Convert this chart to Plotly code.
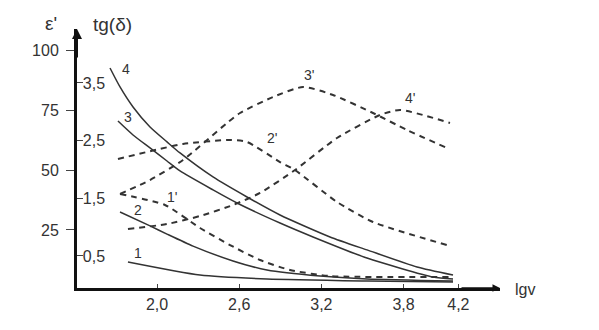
import plotly.graph_objects as go

# ---- data ----
# ε' curves (solid), x = lg ν
eps1_x = [1.788, 2.314, 2.803, 3.533, 4.161]
eps1_y = [11.7, 6.25, 4.6, 3.75, 3.3]
eps2_x = [1.730, 1.949, 2.073, 2.263, 2.555, 2.803, 3.190, 3.533, 4.161]
eps2_y = [32.5, 26.7, 23.3, 18.3, 12.1, 8.3, 5.8, 4.6, 3.75]
eps3_x = [1.715, 1.825, 1.949, 2.073, 2.168, 2.409, 2.584, 2.898, 3.139, 3.533, 4.015, 4.161]
eps3_y = [70.4, 64.6, 59.2, 53.75, 49.6, 41.7, 36.25, 27.9, 22.1, 13.3, 5.4, 4.6]
eps4_x = [1.657, 1.730, 1.825, 1.949, 2.073, 2.168, 2.409, 2.657, 2.898, 3.263, 3.533, 3.898, 4.161]
eps4_y = [92.5, 84.6, 76.25, 67.9, 61.7, 57.1, 47.1, 38.75, 31.25, 22.1, 16.7, 9.6, 6.25]

# tg(δ) curves (dashed)
tg1_x = [1.730, 2.058, 2.314, 2.533, 2.752, 2.971, 3.263, 4.139]
tg1_y = [1.574, 1.384, 0.985, 0.690, 0.430, 0.257, 0.153, 0.135]
tg2_x = [1.715, 2.190, 2.533, 2.657, 2.898, 3.007, 3.314, 3.577, 4.117]
tg2_y = [2.181, 2.441, 2.511, 2.476, 2.129, 1.990, 1.436, 1.089, 0.690]
tg3_x = [1.730, 1.949, 2.190, 2.511, 2.606, 2.847, 3.066, 3.285, 3.577, 3.825, 4.117]
tg3_y = [1.574, 1.817, 2.164, 2.806, 2.979, 3.256, 3.430, 3.291, 2.979, 2.684, 2.372]
tg4_x = [1.788, 2.073, 2.314, 2.555, 2.752, 3.007, 3.314, 3.628, 3.774, 4.139]
tg4_y = [0.968, 1.054, 1.193, 1.384, 1.592, 1.990, 2.545, 2.944, 3.031, 2.806]

x_tick_vals = [2.0, 2.6, 3.2, 3.8, 4.2]
x_tick_text = ["2,0", "2,6", "3,2", "3,8", "4,2"]
eps_tick_vals = [25, 50, 75, 100]
eps_tick_text = ["25", "50", "75", "100"]
tg_tick_vals = [0.5, 1.5, 2.5, 3.5]
tg_tick_text = ["0,5", "1,5", "2,5", "3,5"]

# curve labels: (text, x, ε'-axis value)
curve_labels = ["1", "2", "3", "4", "1'", "2'", "3'", "4'"]
curve_label_x = [1.861, 1.861, 1.788, 1.774, 2.109, 2.839, 3.109, 3.847]
curve_label_y = [15.3, 33.3, 72.1, 92.1, 38.75, 63.3, 89.6, 80.0]

# ---- figure ----
INK = "#333333"
FONT = "Liberation Sans, Arial, sans-serif"
PW, PH = 423, 259  # plot area in px

fig = go.Figure()
for xs, ys in [(eps1_x, eps1_y), (eps2_x, eps2_y), (eps3_x, eps3_y), (eps4_x, eps4_y)]:
    fig.add_trace(go.Scatter(x=xs, y=ys, mode="lines", yaxis="y",
                             line=dict(color=INK, width=1.5, shape="spline", smoothing=0.6),
                             showlegend=False, hoverinfo="skip"))
for xs, ys in [(tg1_x, tg1_y), (tg2_x, tg2_y), (tg3_x, tg3_y), (tg4_x, tg4_y)]:
    fig.add_trace(go.Scatter(x=xs, y=ys, mode="lines", yaxis="y2",
                             line=dict(color=INK, width=2, dash="6px,5px", shape="spline", smoothing=0.6),
                             showlegend=False, hoverinfo="skip"))

annotations = []
for t, xv, yv in zip(curve_labels, curve_label_x, curve_label_y):
    annotations.append(dict(x=xv, y=yv, xref="x", yref="y", text=t, showarrow=False,
                            xanchor="center", yanchor="middle",
                            font=dict(family=FONT, size=14, color=INK)))
# axis titles
annotations.append(dict(x=(51 - 77) / PW, y=1 + 6 / PH, xref="paper", yref="paper", text="ε'",
                        xanchor="center", yanchor="middle",
                        showarrow=False, font=dict(family=FONT, size=19, color=INK)))
annotations.append(dict(x=(112 - 77) / PW, y=1 + 5 / PH, xref="paper", yref="paper", text="tg(δ)",
                        xanchor="center", yanchor="middle",
                        showarrow=False, font=dict(family=FONT, size=19, color=INK)))
annotations.append(dict(x=(525 - 77) / PW, y=-1 / PH, xref="paper", yref="paper", text="lgv",
                        xanchor="center", yanchor="middle",
                        showarrow=False, font=dict(family=FONT, size=16, color=INK)))
# arrowheads
annotations.append(dict(x=1, y=0, xref="paper", yref="paper", ax=-40, ay=0, text="",
                        showarrow=True, arrowhead=2, arrowsize=1, arrowwidth=1.5, arrowcolor="#111"))
annotations.append(dict(x=0, y=1, xref="paper", yref="paper", ax=0, ay=30, text="",
                        showarrow=True, arrowhead=2, arrowsize=1, arrowwidth=2, arrowcolor="#111"))

# page body adds an 8px offset, so the figure is 8px smaller and margins shifted
fig.update_layout(
    width=591, height=322,
    margin=dict(l=69, r=99, t=21, b=42, autoexpand=False),
    paper_bgcolor="white", plot_bgcolor="white",
    font=dict(family=FONT, color=INK),
    xaxis=dict(range=[1.416, 4.504], showgrid=False, zeroline=False, automargin=False,
               showline=True, linecolor="#111", linewidth=3,
               tickvals=x_tick_vals, ticktext=x_tick_text,
               ticks="inside", ticklen=4, tickcolor="#444",
               tickfont=dict(size=16, color=INK)),
    yaxis=dict(range=[0.83, 108.75], showgrid=False, zeroline=False, automargin=False,
               showline=True, linecolor="#111", linewidth=3,
               tickvals=eps_tick_vals, ticktext=eps_tick_text,
               ticks="outside", ticklen=8, tickcolor="#444",
               ticklabelstandoff=4,
               tickfont=dict(size=16, color=INK)),
    yaxis2=dict(range=[-0.055, 4.435], overlaying="y", side="left", anchor="x",
                showgrid=False, zeroline=False, showline=False, automargin=False,
                tickvals=tg_tick_vals, ticktext=tg_tick_text,
                ticks="inside", ticklen=6, tickcolor="#444",
                ticklabelposition="inside",
                tickfont=dict(size=16, color=INK)),
    annotations=annotations,
)

fig.write_html("out.html")
